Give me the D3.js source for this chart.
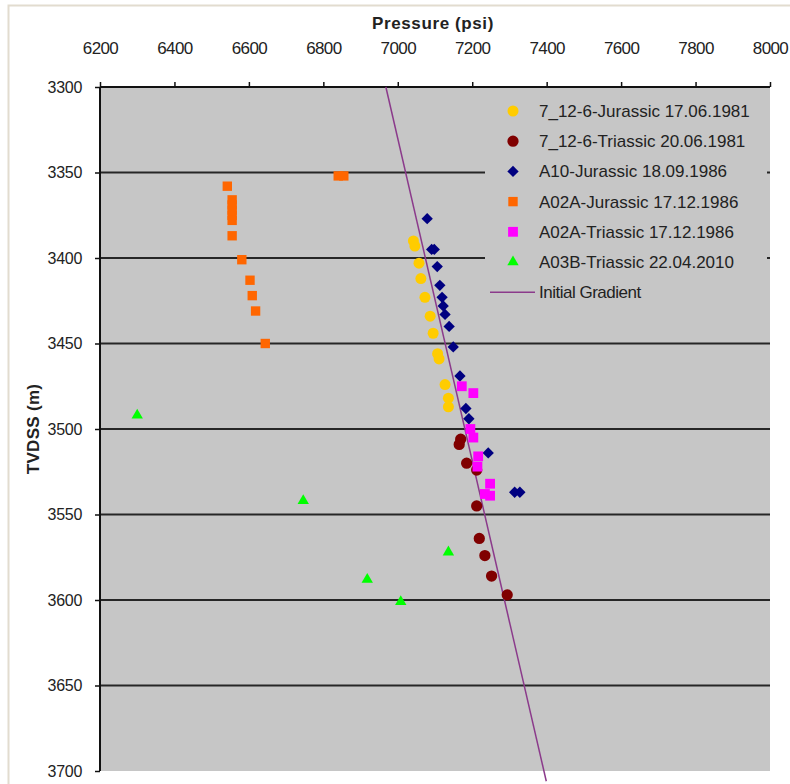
<!DOCTYPE html>
<html>
<head>
<meta charset="utf-8">
<script src="https://cdn.jsdelivr.net/npm/d3@7/dist/d3.min.js"></script>
<style>
  html, body { margin: 0; padding: 0; background: #ffffff; }
  svg { display: block; font-family: "Liberation Sans", Arial, sans-serif; }
</style>
</head>
<body>
<svg id="chart" width="790" height="784"></svg>
<script>
// Pressure (psi) vs depth TVDSS (m) for each survey: [pressure, depth]
const jurassic1981 = [[7042,3390],[7046,3393],[7057,3403],[7062,3412],[7073,3423],[7087,3434],[7095,3444],[7107,3456],[7111,3459],[7127,3474],[7136,3482],[7136,3487]];
const triassic1981 = [[7169,3506],[7165,3509],[7185,3520],[7212,3524],[7212,3545],[7219,3564],[7234,3574],[7252,3586],[7294,3597]];
const a10Jurassic = [[7079,3377],[7091,3395],[7098,3395],[7106,3405],[7113,3416],[7119,3423],[7122,3428],[7127,3433],[7138,3440],[7149,3452],[7167,3469],[7183,3488],[7191,3494],[7243,3514],[7314,3537],[7328,3537]];
const a02aJurassic = [[6542,3358],[6555,3366],[6555,3369],[6555,3372],[6555,3375],[6555,3378],[6555,3387],[6581,3401],[6603,3413],[6609,3422],[6618,3431],[6644,3450],[6840,3352],[6855,3352]];
const a02aTriassic = [[7172,3475],[7203,3479],[7195,3500],[7203,3505],[7216,3516],[7214,3522],[7248,3532],[7234,3538],[7248,3539]];
const a03bTriassic = [[6300,3492],[6746,3542],[7136,3572],[6918,3588],[7008,3601]];
const initialGradient = [[6968,3300],[7399,3706]];

const seriesNames = ["7_12-6-Jurassic 17.06.1981","7_12-6-Triassic 20.06.1981","A10-Jurassic 18.09.1986","A02A-Jurassic 17.12.1986","A02A-Triassic 17.12.1986","A03B-Triassic 22.04.2010"];
const gradientName = "Initial Gradient";
const xTicks = [6200,6400,6600,6800,7000,7200,7400,7600,7800,8000];
const yTicks = [3300,3350,3400,3450,3500,3550,3600,3650,3700];

const series = [
  { name: seriesNames[0], data: jurassic1981, shape: "circle",   color: "#FFCC00", size: 95 },
  { name: seriesNames[1], data: triassic1981, shape: "circle",   color: "#800000", size: 100 },
  { name: seriesNames[2], data: a10Jurassic,  shape: "diamond",  color: "#000080", size: 64 },
  { name: seriesNames[3], data: a02aJurassic, shape: "square",   color: "#FF6600", size: 88 },
  { name: seriesNames[4], data: a02aTriassic, shape: "square",   color: "#FF00FF", size: 96 },
  { name: seriesNames[5], data: a03bTriassic, shape: "triangle", color: "#00FF00", size: 56 }
];

const svg = d3.select("#chart");
const plot = { left: 100, right: 770, top: 87, bottom: 771 };

const x = d3.scaleLinear().domain([6200, 8000]).range([plot.left, plot.right]);
const y = d3.scaleLinear().domain([3300, 3700]).range([plot.top, plot.bottom]);

// outer frame
svg.append("rect")
  .attr("x", 8.5).attr("y", 5.5).attr("width", 800).attr("height", 800)
  .attr("fill", "none").attr("stroke", "#e2dccf").attr("stroke-width", 2);

// plot area
svg.append("rect")
  .attr("x", plot.left).attr("y", plot.top)
  .attr("width", plot.right - plot.left).attr("height", plot.bottom - plot.top)
  .attr("fill", "#c6c6c6");

// horizontal gridlines
svg.append("g").selectAll("line")
  .data(yTicks.filter(d => d > 3300 && d < 3700))
  .join("line")
  .attr("x1", plot.left).attr("x2", plot.right)
  .attr("y1", d => y(d)).attr("y2", d => y(d))
  .attr("stroke", "#262626").attr("stroke-width", 2.2);

// top pressure axis
const xAxis = svg.append("g")
  .attr("transform", `translate(0,${plot.top})`)
  .call(d3.axisTop(x).tickValues(xTicks).tickSize(5).tickPadding(28).tickFormat(d3.format("d")));
xAxis.select(".domain").attr("stroke", "#111").attr("stroke-width", 2).attr("d", `M${plot.left},0H${plot.right}`);
xAxis.selectAll(".tick line").attr("stroke", "#111").attr("stroke-width", 1.5);
xAxis.selectAll(".tick text").attr("font-size", 17).attr("fill", "#222")
  .attr("font-family", "'Liberation Sans', Arial, sans-serif").attr("letter-spacing", "-0.6");

// left depth axis
const yAxis = svg.append("g")
  .attr("transform", `translate(${plot.left},0)`)
  .call(d3.axisLeft(y).tickValues(yTicks).tickSize(5).tickPadding(13).tickFormat(d3.format("d")));
yAxis.select(".domain").attr("stroke", "#111").attr("stroke-width", 2).attr("d", `M0,${plot.top}V${plot.bottom}`);
yAxis.selectAll(".tick line").attr("stroke", "#111").attr("stroke-width", 1.5);
yAxis.selectAll(".tick text").attr("font-size", 16).attr("fill", "#222")
  .attr("font-family", "'Liberation Sans', Arial, sans-serif").attr("letter-spacing", "-0.3");

// axis titles
svg.append("text")
  .attr("x", 433).attr("y", 29)
  .attr("text-anchor", "middle").attr("font-size", 17).attr("font-weight", "bold").attr("fill", "#222")
  .attr("letter-spacing", "0.6")
  .text("Pressure (psi)");
svg.append("text")
  .attr("transform", `translate(39,429) rotate(-90)`)
  .attr("text-anchor", "middle").attr("font-size", 17).attr("font-weight", "bold").attr("fill", "#222")
  .attr("letter-spacing", "0.3")
  .text("TVDSS (m)");

// legend panel
const legend = { x: 485, y: 90, w: 282, h: 222 };
svg.append("rect")
  .attr("x", legend.x).attr("y", legend.y).attr("width", legend.w).attr("height", legend.h)
  .attr("fill", "#c6c6c6");

// initial pressure gradient
svg.append("path")
  .datum(initialGradient)
  .attr("d", d3.line().x(d => x(d[0])).y(d => y(d[1])))
  .attr("fill", "none").attr("stroke", "#8B3A8B").attr("stroke-width", 1.5);

function symbolPath(s) {
  const type = { circle: d3.symbolCircle, diamond: d3.symbolSquare, square: d3.symbolSquare, triangle: d3.symbolTriangle }[s.shape];
  return d3.symbol().type(type).size(s.size)();
}

// survey points
series.forEach(s => {
  svg.append("g").selectAll("path")
    .data(s.data)
    .join("path")
    .attr("d", symbolPath(s))
    .attr("transform", d => `translate(${x(d[0])},${y(d[1])})` + (s.shape === "diamond" ? " rotate(45)" : ""))
    .attr("fill", s.color);
});

// legend entries
const rowY = i => 111 + i * 30.2;
series.forEach((s, i) => {
  svg.append("path")
    .attr("d", symbolPath(s))
    .attr("transform", `translate(513,${rowY(i)})` + (s.shape === "diamond" ? " rotate(45)" : ""))
    .attr("fill", s.color);
  svg.append("text")
    .attr("x", 539).attr("y", rowY(i) + 6)
    .attr("font-size", 17).attr("fill", "#222")
    .text(s.name);
});
svg.append("line")
  .attr("x1", 490).attr("x2", 535).attr("y1", rowY(6)).attr("y2", rowY(6))
  .attr("stroke", "#8B3A8B").attr("stroke-width", 1.5);
svg.append("text")
  .attr("x", 539).attr("y", rowY(6) + 6)
  .attr("font-size", 17).attr("fill", "#222").attr("letter-spacing", "-0.5")
  .text(gradientName);
</script>
</body>
</html>
